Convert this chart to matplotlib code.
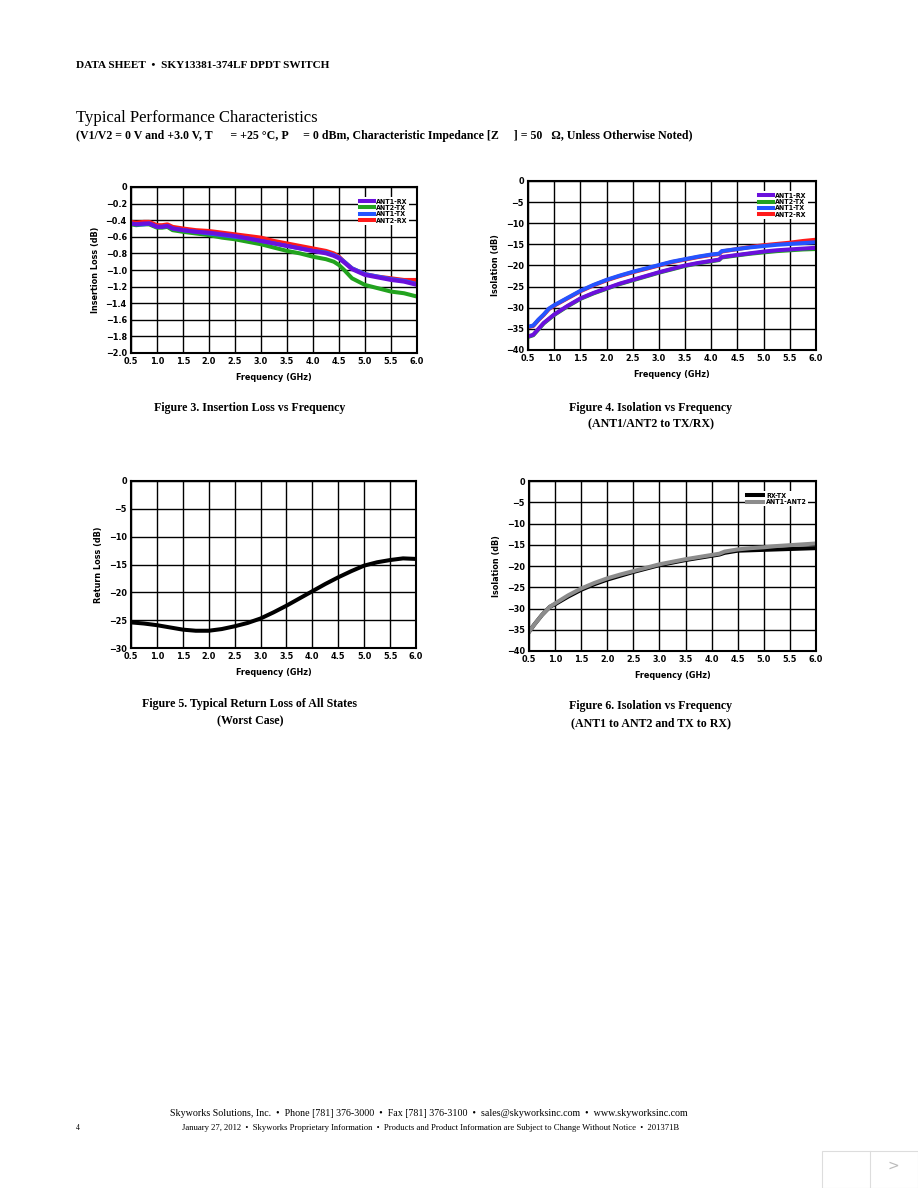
import matplotlib
matplotlib.use("Agg")
import matplotlib.pyplot as plt
from matplotlib import font_manager as fm
from matplotlib.patches import Rectangle

# ---------------- data ----------------
il_freq = [0.5, 0.6, 0.75, 0.85, 1.0, 1.1, 1.2, 1.3, 1.5, 1.75, 2.0, 2.25, 2.5, 2.75, 3.0,
           3.25, 3.5, 3.75, 4.0, 4.25, 4.4, 4.5, 4.6, 4.75, 5.0, 5.25, 5.5, 5.75, 6.0]
il_ant1_rx = [-0.44, -0.45, -0.44, -0.44, -0.48, -0.48, -0.47, -0.50, -0.52, -0.54, -0.55, -0.57, -0.59, -0.62, -0.65,
              -0.68, -0.71, -0.74, -0.77, -0.80, -0.83, -0.86, -0.91, -0.99, -1.06, -1.09, -1.12, -1.14, -1.18]
il_ant2_tx = [-0.45, -0.46, -0.45, -0.45, -0.49, -0.49, -0.48, -0.52, -0.54, -0.56, -0.58, -0.61, -0.63, -0.66, -0.69,
              -0.73, -0.77, -0.80, -0.84, -0.87, -0.90, -0.94, -1.00, -1.10, -1.18, -1.22, -1.26, -1.28, -1.32]
il_ant1_tx = [-0.44, -0.45, -0.45, -0.44, -0.48, -0.48, -0.47, -0.50, -0.52, -0.54, -0.56, -0.58, -0.60, -0.62, -0.65,
              -0.68, -0.71, -0.74, -0.77, -0.79, -0.82, -0.85, -0.90, -0.98, -1.05, -1.08, -1.11, -1.13, -1.17]
il_ant2_rx = [-0.42, -0.43, -0.42, -0.42, -0.46, -0.46, -0.45, -0.48, -0.50, -0.52, -0.53, -0.55, -0.57, -0.59, -0.61,
              -0.65, -0.68, -0.71, -0.74, -0.77, -0.80, -0.84, -0.90, -0.98, -1.05, -1.08, -1.10, -1.12, -1.12]

iso_freq = [0.5, 0.6, 0.7, 0.8, 0.9, 1.0, 1.25, 1.5, 1.75, 2.0, 2.25, 2.5, 2.75, 3.0, 3.25, 3.5, 3.75,
            4.0, 4.15, 4.2, 4.5, 4.75, 5.0, 5.25, 5.5, 5.75, 6.0]
iso_ant1_rx = [-36.8, -36.4, -35.0, -33.6, -32.6, -31.6, -29.6, -27.8, -26.5, -25.4, -24.3, -23.4, -22.5, -21.6, -20.8,
               -20.0, -19.4, -18.9, -18.6, -18.0, -17.5, -17.1, -16.7, -16.4, -16.2, -16.0, -15.8]
iso_ant2_tx = [-36.9, -36.5, -35.1, -33.7, -32.7, -31.7, -29.7, -27.9, -26.6, -25.5, -24.4, -23.5, -22.6, -21.7, -20.9,
               -20.1, -19.5, -19.0, -18.7, -18.1, -17.6, -17.2, -16.9, -16.6, -16.4, -16.2, -16.1]
iso_ant1_tx = [-34.5, -34.2, -32.8, -31.6, -30.2, -29.4, -27.7, -26.0, -24.6, -23.4, -22.4, -21.5, -20.7, -19.9, -19.1,
               -18.5, -17.9, -17.4, -17.2, -16.6, -16.1, -15.7, -15.4, -15.1, -14.9, -14.7, -14.5]
iso_ant2_rx = [-34.6, -34.3, -32.9, -31.7, -30.3, -29.5, -27.8, -26.1, -24.7, -23.5, -22.5, -21.6, -20.8, -20.0, -19.2,
               -18.6, -18.0, -17.5, -17.3, -16.7, -16.1, -15.6, -15.2, -14.9, -14.6, -14.2, -13.9]

rl_freq = [0.5, 0.75, 1.0, 1.25, 1.5, 1.75, 2.0, 2.25, 2.5, 2.75, 3.0, 3.25, 3.5, 3.75, 4.0, 4.25, 4.5,
           4.75, 5.0, 5.25, 5.5, 5.75, 6.0]
rl_worst = [-25.4, -25.6, -25.9, -26.3, -26.7, -26.9, -26.9, -26.6, -26.1, -25.5, -24.7, -23.6, -22.4, -21.1,
            -19.8, -18.5, -17.3, -16.2, -15.2, -14.6, -14.2, -13.9, -14.0]

iso2_freq = [0.5, 0.6, 0.75, 0.9, 1.0, 1.25, 1.5, 1.75, 2.0, 2.25, 2.5, 2.75, 3.0, 3.25, 3.5, 3.75, 4.0,
             4.15, 4.25, 4.5, 4.75, 5.0, 5.25, 5.5, 5.75, 6.0]
iso2_rx_tx = [-35.5, -33.8, -31.5, -29.6, -29.0, -27.2, -25.6, -24.3, -23.2, -22.3, -21.4, -20.6, -19.8, -19.2,
              -18.6, -18.1, -17.6, -17.3, -16.9, -16.4, -16.3, -16.2, -16.1, -16.0, -15.9, -15.8]
iso2_ant1_ant2 = [-35.5, -33.8, -31.5, -29.6, -28.8, -26.9, -25.3, -24.0, -22.9, -22.0, -21.2, -20.4, -19.6, -19.0,
                  -18.4, -17.9, -17.4, -17.1, -16.6, -16.1, -15.8, -15.6, -15.3, -15.1, -14.9, -14.7]

freq_ticks = [0.5, 1.0, 1.5, 2.0, 2.5, 3.0, 3.5, 4.0, 4.5, 5.0, 5.5, 6.0]

# ---------------- fonts ----------------
names = {f.name for f in fm.fontManager.ttflist}
if "Liberation Sans Narrow" in names:
    SANS = dict(family="Liberation Sans Narrow", weight="bold")
else:
    SANS = dict(family="DejaVu Sans", weight="bold", stretch="condensed")
SERIF = "Liberation Serif" if "Liberation Serif" in names else "DejaVu Serif"

W, H = 918, 1188
fig = plt.figure(figsize=(W / 100, H / 100), dpi=100)
fig.patch.set_facecolor("white")


def px_axes(x0, y0, x1, y1):
    return fig.add_axes([x0 / W, 1 - y1 / H, (x1 - x0) / W, (y1 - y0) / H])


def ftext(x, y, s, **kw):
    fig.text(x / W, 1 - y / H, s, **kw)


def style(ax, ylim, yticks, ylabel, yfmt):
    ax.set_xlim(0.5, 6.0)
    ax.set_ylim(*ylim)
    ax.set_xticks(freq_ticks)
    ax.set_xticklabels([f"{v:.1f}" for v in freq_ticks], fontsize=6.5, **SANS)
    ax.set_yticks(yticks)
    ax.set_yticklabels([yfmt(v) for v in yticks], fontsize=6.5, **SANS)
    ax.tick_params(length=0, pad=3)
    ax.grid(True, color="black", linewidth=1.0)
    ax.set_axisbelow(True)
    for s in ax.spines.values():
        s.set_linewidth(1.5)
        s.set_color("black")
    ax.set_xlabel("Frequency (GHz)", fontsize=6.5, labelpad=5, **SANS)
    ax.set_ylabel(ylabel, fontsize=6.5, labelpad=4, **SANS)


def fmt_dec(v):
    return "0" if abs(v) < 1e-9 else f"{v:.1f}".replace("-", "\u2212")


def fmt_int(v):
    return "0" if abs(v) < 1e-9 else f"{int(round(v))}".replace("-", "\u2212")


LW = 2.9
PURPLE, GREEN, BLUE, RED = "#6a10dc", "#22a31e", "#2454ff", "#ff1a1a"

# ---- Figure 3 ----
ax1 = px_axes(131, 187, 417, 353)
style(ax1, (-2.0, 0.0), [0, -0.2, -0.4, -0.6, -0.8, -1.0, -1.2, -1.4, -1.6, -1.8, -2.0],
      "Insertion Loss (dB)", fmt_dec)
l_g, = ax1.plot(il_freq, il_ant2_tx, color=GREEN, lw=LW, label="ANT2-TX")
l_r, = ax1.plot(il_freq, il_ant2_rx, color=RED, lw=LW, label="ANT2-RX")
l_b, = ax1.plot(il_freq, il_ant1_tx, color=BLUE, lw=LW, label="ANT1-TX")
l_p, = ax1.plot(il_freq, il_ant1_rx, color=PURPLE, lw=LW, label="ANT1-RX")
leg = ax1.legend([l_p, l_g, l_b, l_r], ["ANT1-RX", "ANT2-TX", "ANT1-TX", "ANT2-RX"],
                 loc="upper right", bbox_to_anchor=(0.985, 0.96), prop=dict(size=5, **SANS),
                 handlelength=2.0, handletextpad=0.4, labelspacing=0.05, borderpad=0.2,
                 frameon=True, fancybox=False, framealpha=1.0)
leg.get_frame().set_edgecolor("none")

# ---- Figure 4 ----
ax2 = px_axes(528, 181, 816, 350)
style(ax2, (-40, 0), list(range(0, -45, -5)), "Isolation (dB)", fmt_int)
m_r, = ax2.plot(iso_freq, iso_ant2_rx, color=RED, lw=LW)
m_b, = ax2.plot(iso_freq, iso_ant1_tx, color=BLUE, lw=LW)
m_g, = ax2.plot(iso_freq, iso_ant2_tx, color=GREEN, lw=LW)
m_p, = ax2.plot(iso_freq, iso_ant1_rx, color=PURPLE, lw=LW)
leg2 = ax2.legend([m_p, m_g, m_b, m_r], ["ANT1-RX", "ANT2-TX", "ANT1-TX", "ANT2-RX"],
                  loc="upper right", bbox_to_anchor=(0.985, 0.96), prop=dict(size=5, **SANS),
                  handlelength=2.0, handletextpad=0.4, labelspacing=0.05, borderpad=0.2,
                  frameon=True, fancybox=False, framealpha=1.0)
leg2.get_frame().set_edgecolor("none")

# ---- Figure 5 ----
ax3 = px_axes(131, 481, 416, 648)
style(ax3, (-30, 0), list(range(0, -35, -5)), "Return Loss (dB)", fmt_int)
ax3.plot(rl_freq, rl_worst, color="black", lw=LW)

# ---- Figure 6 ----
ax4 = px_axes(529, 481, 816, 651)
style(ax4, (-40, 0), list(range(0, -45, -5)), "Isolation (dB)", fmt_int)
n_k, = ax4.plot(iso2_freq, iso2_rx_tx, color="black", lw=LW)
n_g, = ax4.plot(iso2_freq, iso2_ant1_ant2, color="#8c8c8c", lw=LW)
leg4 = ax4.legend([n_k, n_g], ["RX-TX", "ANT1-ANT2"],
                  loc="upper right", bbox_to_anchor=(0.985, 0.96), prop=dict(size=5, **SANS),
                  handlelength=2.4, handletextpad=0.4, labelspacing=0.05, borderpad=0.2,
                  frameon=True, fancybox=False, framealpha=1.0)
leg4.get_frame().set_edgecolor("none")

# ---------------- page text ----------------
ftext(76, 66, "DATA SHEET  \u2022  SKY13381-374LF DPDT SWITCH", family=SERIF, weight="bold",
      fontsize=8.1, va="center", ha="left")
ftext(76, 118, "Typical Performance Characteristics", family=SERIF, fontsize=12,
      va="center", ha="left")
ftext(76, 136, "(V1/V2 = 0 V and +3.0 V, T      = +25 \u00b0C, P     = 0 dBm, Characteristic Impedance [Z     ] = 50   \u03a9, Unless Otherwise Noted)",
      family=SERIF, weight="bold", fontsize=8.6, va="center", ha="left")

cap = dict(family=SERIF, weight="bold", fontsize=8.6, ha="center", va="center")
ftext(250, 408, "Figure 3. Insertion Loss vs Frequency", **cap)
ftext(651, 408, "Figure 4. Isolation vs Frequency", **cap)
ftext(651, 424, "(ANT1/ANT2 to TX/RX)", **cap)
ftext(250, 704, "Figure 5. Typical Return Loss of All States", **cap)
ftext(250, 721, "(Worst Case)", **cap)
ftext(651, 706, "Figure 6. Isolation vs Frequency", **cap)
ftext(651, 723, "(ANT1 to ANT2 and TX to RX)", **cap)

ftext(429, 1113, "Skyworks Solutions, Inc.  \u2022  Phone [781] 376-3000  \u2022  Fax [781] 376-3100  \u2022  sales@skyworksinc.com  \u2022  www.skyworksinc.com",
      family=SERIF, fontsize=7.2, ha="center", va="center")
ftext(76, 1128, "4", family=SERIF, fontsize=5.5, ha="left", va="center")
ftext(431, 1128, "January 27, 2012  \u2022  Skyworks Proprietary Information  \u2022  Products and Product Information are Subject to Change Without Notice  \u2022  201371B",
      family=SERIF, fontsize=6.2, ha="center", va="center")

# bottom-right navigation box
fig.patches.append(Rectangle((822 / W, 0), 96 / W, 37 / H, transform=fig.transFigure,
                             facecolor="white", edgecolor="#dddddd", lw=0.8))
fig.lines.append(plt.Line2D([870 / W, 870 / W], [0, 37 / H], transform=fig.transFigure,
                            color="#dddddd", lw=0.8))
ftext(893, 1166, ">", family="DejaVu Sans", fontsize=10, color="#bbbbbb", ha="center", va="center")

fig.savefig("out.png", dpi=100, facecolor="white")
